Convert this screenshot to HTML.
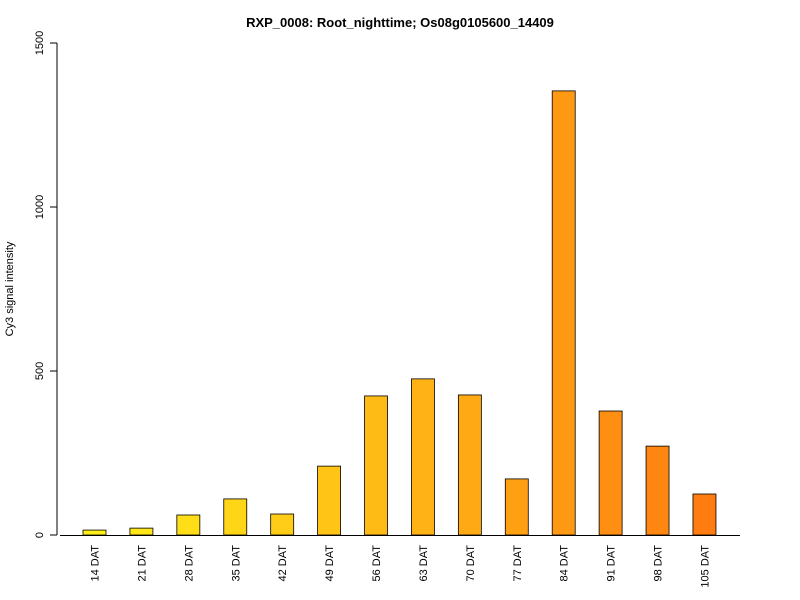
<!DOCTYPE html>
<html><head><meta charset="utf-8"><style>
body{margin:0;background:#fff;}
svg{display:block;font-family:"Liberation Sans",Arial,sans-serif;}
</style></head><body>
<svg width="800" height="600">
<text x="400" y="27" text-anchor="middle" font-size="13" font-weight="bold">RXP_0008: Root_nighttime; Os08g0105600_14409</text>
<text transform="translate(13,289) rotate(-90)" text-anchor="middle" font-size="11">Cy3 signal intensity</text>
<g id="axes"></g>
<g id="bars"></g>
</svg>
<script>
const categories=["14 DAT","21 DAT","28 DAT","35 DAT","42 DAT","49 DAT","56 DAT","63 DAT","70 DAT","77 DAT","84 DAT","91 DAT","98 DAT","105 DAT"];
const values=[15,21,61,110,64,210,424,476,427,171,1354,378,271,125];
const yTicks=[0,500,1000,1500];
const NS="http://www.w3.org/2000/svg";
const y=v=>535-v*(492/1500);
const x=i=>94.5+i*46.92;
function mk(t,a,p){const e=document.createElementNS(NS,t);for(const k in a)e.setAttribute(k,a[k]);p.appendChild(e);return e;}
const ax=document.getElementById('axes'),bg=document.getElementById('bars');
const yl=mk('line',{x1:57,x2:57,y1:y(1500),y2:y(0),stroke:'#000'},ax);


const xl=mk('line',{x1:60,x2:740,y1:535.5,y2:535.5,stroke:'#000'},ax);


yTicks.forEach(t=>{
 const tk=mk('line',{x1:50,x2:57,y1:y(t),y2:y(t),stroke:'#000'},ax);
 
 
 const tx=mk('text',{transform:`translate(43,${y(t)}) rotate(-90)`,'text-anchor':'middle','font-size':11},ax);
 tx.textContent=t;
 
 
});
const n=categories.length;
values.forEach((v,i)=>{
 const f=i/(n-1);
 const g=Math.round(240-f*(240-125));
 const b=Math.round(26-f*10);
 const r=mk('rect',{x:x(i)-11.5,y:y(v),width:23,height:y(0)-y(v),fill:`rgb(255,${g},${b})`,stroke:'#000','stroke-width':0.8},bg);
 
 
 const t=mk('text',{transform:`translate(${x(i)+4},545) rotate(-90)`,'text-anchor':'end','font-size':11},bg);
 t.textContent=categories[i];
 
 
});
</script>
</body></html>
